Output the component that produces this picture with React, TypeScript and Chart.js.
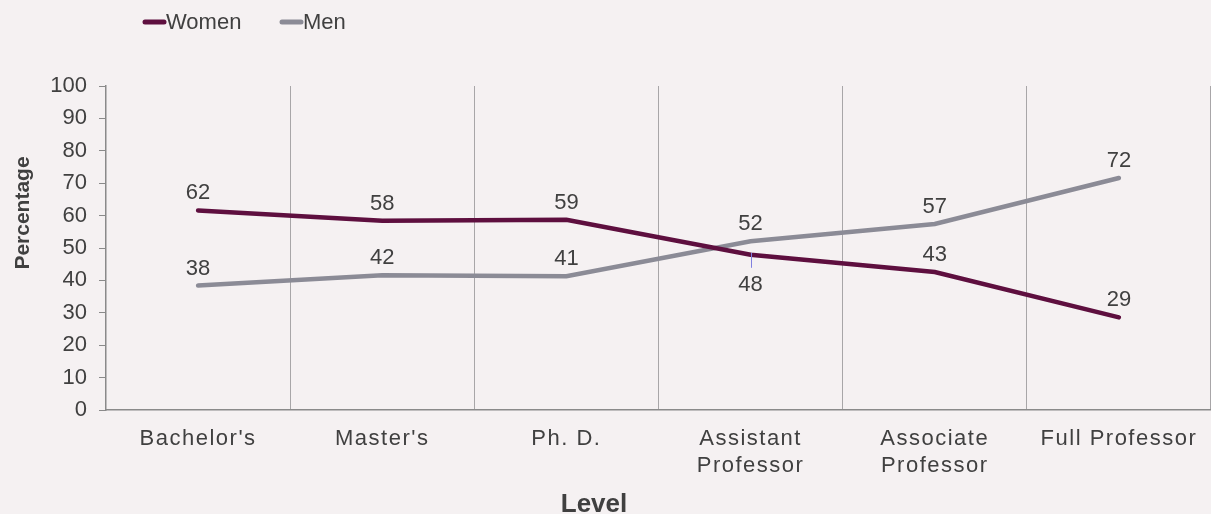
import React, { useEffect, useRef } from "react";
import { Chart, registerables } from "chart.js";

Chart.register(...registerables);

const categories: string[][] = [
  ["Bachelor's"],
  ["Master's"],
  ["Ph. D."],
  ["Assistant", "Professor"],
  ["Associate", "Professor"],
  ["Full Professor"],
];
const women = [61.6, 58.4, 58.7, 47.9, 42.6, 28.6];
const men = [38.4, 41.6, 41.3, 52.1, 57.4, 71.6];
const womenLabelPos = ["above", "above", "above", "below", "above", "above"];
const menLabelPos = ["above", "above", "above", "above", "above", "above"];
const yTicks = { min: 0, max: 100, step: 10 };

const BG = "#f5f1f2";
const WOMEN_COLOR = "#5e0f3f";
const MEN_COLOR = "#8b8b96";
const TEXT = "#404040";
const FONT = "Arial, 'Liberation Sans', sans-serif";

const customPlugin = {
  id: "custom",
  beforeDraw(chart: any) {
    const { ctx, width, height } = chart;
    ctx.save();
    ctx.fillStyle = BG;
    ctx.fillRect(0, 0, width, height);
    ctx.restore();
  },
  afterDraw(chart: any) {
    const { ctx } = chart;
    const xs = chart.scales.x;
    ctx.save();
    ctx.fillStyle = TEXT;

    // x tick labels
    ctx.font = `22px ${FONT}`;
    (ctx as any).letterSpacing = "1.5px";
    ctx.textAlign = "center";
    ctx.textBaseline = "alphabetic";
    categories.forEach((lines, i) => {
      const x = xs.getPixelForValue(i);
      lines.forEach((ln, j) => {
        ctx.fillText(ln, x, 445 + j * 27);
      });
    });
    (ctx as any).letterSpacing = "0px";

    // data labels
    ctx.font = `22px ${FONT}`;
    const drawLabels = (dsIndex: number, vals: number[], pos: string[]) => {
      const meta = chart.getDatasetMeta(dsIndex);
      meta.data.forEach((pt: any, i: number) => {
        const txt = String(Math.round(vals[i]));
        ctx.fillStyle = TEXT;
        if (pos[i] === "below") {
          ctx.strokeStyle = "#8080e0";
          ctx.lineWidth = 1;
          ctx.beginPath();
          ctx.moveTo(Math.round(pt.x) + 0.5, pt.y - 2);
          ctx.lineTo(Math.round(pt.x) + 0.5, pt.y + 13);
          ctx.stroke();
          ctx.fillText(txt, pt.x, pt.y + 36);
        } else {
          ctx.fillText(txt, pt.x, pt.y - 11);
        }
      });
    };
    drawLabels(0, women, womenLabelPos);
    drawLabels(1, men, menLabelPos);

    // axis titles
    ctx.fillStyle = TEXT;
    ctx.textAlign = "center";
    ctx.font = `bold 26px ${FONT}`;
    ctx.fillText("Level", 594, 512);
    ctx.font = `bold 21px ${FONT}`;
    ctx.save();
    ctx.translate(29, 213);
    ctx.rotate(-Math.PI / 2);
    ctx.textBaseline = "alphabetic";
    ctx.fillText("Percentage", 0, 0);
    ctx.restore();

    // legend
    const items = [
      { label: "Women", color: WOMEN_COLOR, x: 143 },
      { label: "Men", color: MEN_COLOR, x: 280 },
    ];
    ctx.font = `22px ${FONT}`;
    ctx.textAlign = "left";
    items.forEach((it) => {
      ctx.strokeStyle = it.color;
      ctx.lineWidth = 5;
      ctx.lineCap = "round";
      ctx.beginPath();
      ctx.moveTo(it.x + 2, 22);
      ctx.lineTo(it.x + 21, 22);
      ctx.stroke();
      ctx.fillStyle = TEXT;
      ctx.fillText(it.label, it.x + 23, 29);
    });
    ctx.restore();
  },
};

export default function App() {
  const ref = useRef<HTMLCanvasElement>(null);
  useEffect(() => {
    if (!ref.current) return;
    const chart = new Chart(ref.current, {
      type: "line",
      data: {
        labels: categories.map((c) => c.join(" ")),
        datasets: [
          {
            label: "Women",
            data: women,
            borderColor: WOMEN_COLOR,
            backgroundColor: WOMEN_COLOR,
            borderWidth: 4.5,
            pointRadius: 0,
            tension: 0,
            borderCapStyle: "round",
          },
          {
            label: "Men",
            data: men,
            borderColor: MEN_COLOR,
            backgroundColor: MEN_COLOR,
            borderWidth: 4.5,
            pointRadius: 0,
            tension: 0,
            borderCapStyle: "round",
          },
        ],
      },
      options: {
        responsive: false,
        animation: false,
        devicePixelRatio: 1,
        layout: { padding: { top: 86, left: 0, right: 0, bottom: 0 } },
        plugins: {
          legend: { display: false },
          tooltip: { enabled: false },
        },
        scales: {
          x: {
            type: "category",
            offset: true,
            grid: {
              offset: true,
              color: "#a8a6a8",
              lineWidth: 1,
              drawTicks: false,
            },
            border: { display: true, color: "#8a8a8a", width: 1.5 },
            ticks: { display: false },
            afterFit: (s: any) => {
              s.height = 104;
            },
          },
          y: {
            min: yTicks.min,
            max: yTicks.max,
            grid: {
              drawOnChartArea: false,
              drawTicks: true,
              tickLength: 7,
              color: "#8a8a8a",
            },
            border: { display: true, color: "#8a8a8a", width: 1.5 },
            ticks: {
              stepSize: yTicks.step,
              color: TEXT,
              font: { size: 22, family: FONT },
              padding: 12,
            },
            afterFit: (s: any) => {
              s.width = 106;
            },
          },
        },
      },
      plugins: [customPlugin],
    } as any);
    return () => chart.destroy();
  }, []);
  return (
    <div
      style={{
        position: "fixed",
        left: 0,
        top: 0,
        width: 1211,
        height: 514,
        background: BG,
        overflow: "hidden",
      }}
    >
      <canvas ref={ref} width={1211} height={514} />
    </div>
  );
}
